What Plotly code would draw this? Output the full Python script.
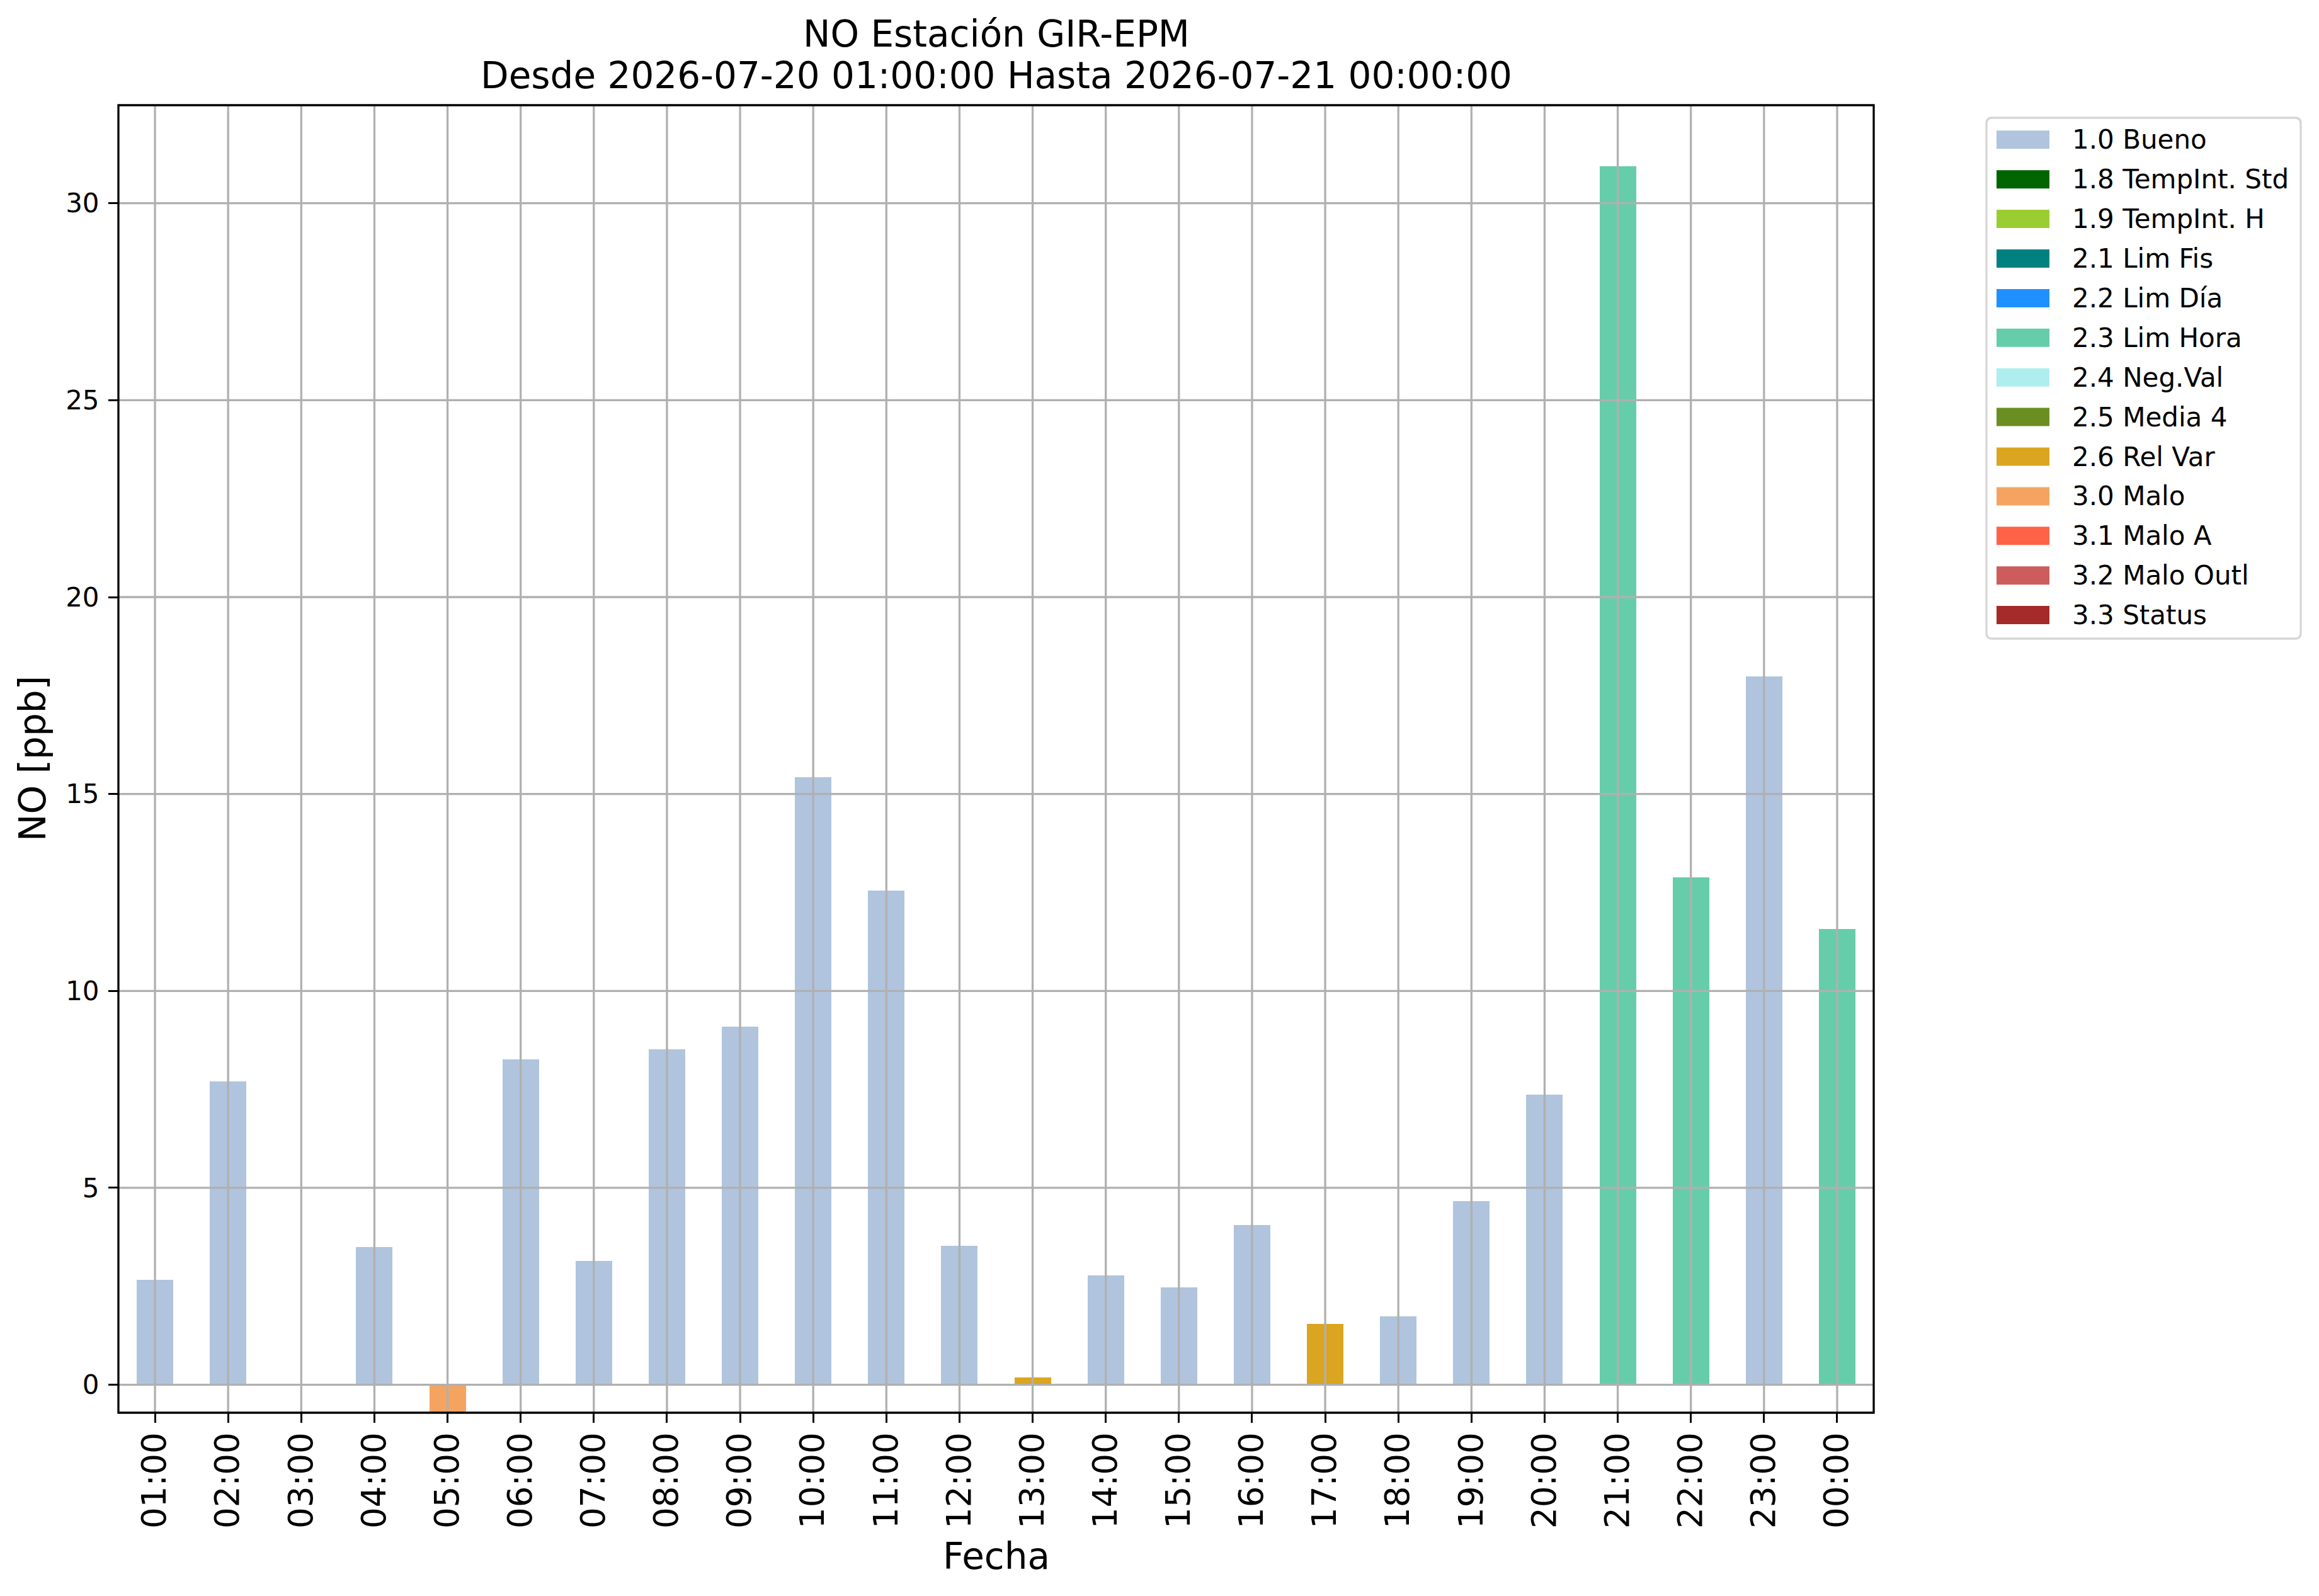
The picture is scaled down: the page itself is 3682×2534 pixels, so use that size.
import plotly.graph_objects as go

# datos
hours = ["01:00", "02:00", "03:00", "04:00", "05:00", "06:00", "07:00", "08:00",
         "09:00", "10:00", "11:00", "12:00", "13:00", "14:00", "15:00", "16:00",
         "17:00", "18:00", "19:00", "20:00", "21:00", "22:00", "23:00", "00:00"]
no_ppb = [2.67, 7.70, None, 3.49, -0.71, 8.26, 3.15, 8.52,
          9.09, 15.43, 12.54, 3.53, 0.19, 2.78, 2.48, 4.06,
          1.54, 1.73, 4.66, 7.36, 30.94, 12.88, 17.99, 11.57]
flags = [1.0, 1.0, None, 1.0, 3.0, 1.0, 1.0, 1.0,
         1.0, 1.0, 1.0, 1.0, 2.6, 1.0, 1.0, 1.0,
         2.6, 1.0, 1.0, 1.0, 2.3, 2.3, 1.0, 2.3]

flag_codes = [1.0, 1.8, 1.9, 2.1, 2.2, 2.3, 2.4, 2.5, 2.6, 3.0, 3.1, 3.2, 3.3]
flag_names = ["1.0 Bueno", "1.8 TempInt. Std", "1.9 TempInt. H", "2.1 Lim Fis",
              "2.2 Lim Día", "2.3 Lim Hora", "2.4 Neg.Val", "2.5 Media 4",
              "2.6 Rel Var", "3.0 Malo", "3.1 Malo A", "3.2 Malo Outl", "3.3 Status"]
flag_colors = ["#B0C4DE", "#006400", "#9ACD32", "#008080", "#1E90FF", "#66CDAA",
               "#AFEEEE", "#6B8E23", "#DAA520", "#F4A460", "#FF6347", "#CD5C5C",
               "#A52A2A"]

W, H = 3682, 2534
L, R, T, B = 188, 2975, 167, 2243   # area del grafico en px de la pagina
OFF = 8                             # margen del body en la pagina html
FONT = "DejaVu Sans"
LW = 3.3


def px_x(p):
    return (p - L) / (R - L)


def px_y(p):
    return (B - p) / (B - T)


def rounded_box(x0, y0, x1, y1, r):
    # caja con esquinas redondeadas, en px de pagina -> coordenadas paper
    pts = [
        ("M", x0 + r, y0), ("L", x1 - r, y0), ("Q", x1, y0, x1, y0 + r),
        ("L", x1, y1 - r), ("Q", x1, y1, x1 - r, y1), ("L", x0 + r, y1),
        ("Q", x0, y1, x0, y1 - r), ("L", x0, y0 + r), ("Q", x0, y0, x0 + r, y0),
    ]
    path = ""
    for p in pts:
        cmd, vals = p[0], p[1:]
        coords = []
        for k in range(0, len(vals), 2):
            coords.append("%.5f,%.5f" % (px_x(vals[k]), px_y(vals[k + 1])))
        path += cmd + " ".join(coords) + " "
    return path + "Z"


fig = go.Figure()

for code, name, color in zip(flag_codes, flag_names, flag_colors):
    ys = [v if f == code else None for v, f in zip(no_ppb, flags)]
    fig.add_trace(go.Bar(x=hours, y=ys, name=name, width=0.5,
                         marker=dict(color=color, line=dict(width=0)),
                         showlegend=False))

shapes = []
# rejilla encima de las barras (como matplotlib)
for h in hours:
    shapes.append(dict(type="line", xref="x", yref="paper", x0=h, x1=h, y0=0, y1=1,
                       line=dict(color="#b0b0b0", width=LW), layer="above"))
for yv in range(0, 31, 5):
    shapes.append(dict(type="line", xref="paper", yref="y", x0=0, x1=1, y0=yv, y1=yv,
                       line=dict(color="#b0b0b0", width=LW), layer="above"))
shapes.append(dict(type="rect", xref="paper", yref="paper", x0=0, x1=1, y0=0, y1=1,
                   line=dict(color="black", width=LW), layer="above"))

# leyenda
shapes.append(dict(type="path", xref="paper", yref="paper",
                   path=rounded_box(3154, 187, 3653, 1014, 9),
                   line=dict(color="#d6d6d6", width=LW), fillcolor="white", layer="above"))
annotations = []
for i, (name, color) in enumerate(zip(flag_names, flag_colors)):
    cy = 221.8 + 62.9 * i
    shapes.append(dict(type="rect", xref="paper", yref="paper",
                       x0=px_x(3170), x1=px_x(3254), y0=px_y(cy + 14.5), y1=px_y(cy - 14.5),
                       line=dict(width=0), fillcolor=color, layer="above"))
    annotations.append(dict(text=name, xref="paper", yref="paper", x=px_x(3288), y=px_y(cy),
                            xanchor="left", yanchor="middle", showarrow=False,
                            font=dict(family=FONT, size=42, color="black")))

annotations.append(dict(text="NO Estación GIR-EPM",
                        xref="paper", yref="paper", x=0.5, y=px_y(54),
                        xanchor="center", yanchor="middle", showarrow=False,
                        font=dict(family=FONT, size=58, color="black")))
annotations.append(dict(text="Desde 2026-07-20 01:00:00 Hasta 2026-07-21 00:00:00",
                        xref="paper", yref="paper", x=0.5, y=px_y(120),
                        xanchor="center", yanchor="middle", showarrow=False,
                        font=dict(family=FONT, size=58, color="black")))
annotations.append(dict(text="NO [ppb]", xref="paper", yref="paper", x=px_x(52), y=0.5,
                        xanchor="center", yanchor="middle", textangle=-90, showarrow=False,
                        font=dict(family=FONT, size=58, color="black")))
annotations.append(dict(text="Fecha", xref="paper", yref="paper", x=0.5, y=px_y(2471),
                        xanchor="center", yanchor="middle", showarrow=False,
                        font=dict(family=FONT, size=58, color="black")))

fig.update_layout(
    width=W, height=H,
    margin=dict(l=L - OFF, r=W - R + OFF, t=T - OFF, b=H - B + OFF, autoexpand=False),
    paper_bgcolor="white", plot_bgcolor="white",
    barmode="relative", bargap=0,
    shapes=shapes, annotations=annotations,
    font=dict(family=FONT, color="black"),
    xaxis=dict(type="category", range=[-0.5, len(hours) - 0.5], showgrid=False,
               zeroline=False, showline=False, ticks="outside", ticklen=15,
               tickwidth=LW, tickcolor="black", tickangle=-90, ticklabelstandoff=-6,
               tickfont=dict(family=FONT, size=53, color="black")),
    yaxis=dict(range=[-0.71, 32.49], tickvals=list(range(0, 31, 5)), showgrid=False,
               zeroline=False, showline=False, ticks="outside", ticklen=15,
               tickwidth=LW, tickcolor="black", ticklabelstandoff=6,
               tickfont=dict(family=FONT, size=42, color="black")),
)

fig.write_html("out.html")
